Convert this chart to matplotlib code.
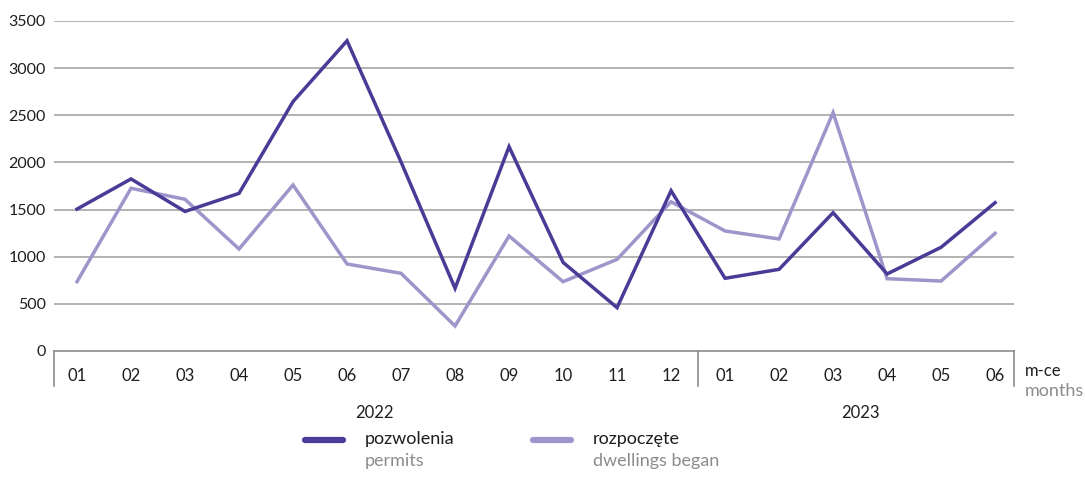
import numpy as np
import matplotlib.pyplot as plt
from matplotlib.lines import Line2D

months = ["01", "02", "03", "04", "05", "06", "07", "08", "09", "10", "11", "12",
          "01", "02", "03", "04", "05", "06"]
years = ["2022", "2023"]
permits = [1505, 1825, 1480, 1672, 2645, 3290, 2005, 665, 2167, 940, 460, 1700,
           771, 866, 1467, 817, 1100, 1573]
began = [735, 1726, 1609, 1082, 1761, 923, 824, 265, 1220, 735, 972, 1583,
         1273, 1188, 2528, 767, 742, 1248]

dark = "#4a3b97"
light = "#a095ca"
grid = "#a6a6a6"
gray_txt = "#8c8c8c"
txt = "#1e1e1e"

plt.rcParams["font.family"] = ["Lato", "DejaVu Sans"]

fig = plt.figure(figsize=(10.85, 4.95), dpi=100)
ax = fig.add_axes([54 / 1085, 1 - 351 / 495, (1014 - 54) / 1085, 330 / 495])

x = np.arange(len(months))
ax.plot(x, began, color=light, lw=2.5, solid_joinstyle="miter")
ax.plot(x, permits, color=dark, lw=2.5, solid_joinstyle="miter")

ax.set_xlim(-0.426, 17.35)
ax.set_ylim(0, 3500)
ax.set_yticks(np.arange(0, 3501, 500))
for y in np.arange(500, 3501, 500):
    ax.axhline(y, color=grid, lw=1.2, zorder=0)

for s in ["top", "right", "left"]:
    ax.spines[s].set_visible(False)
ax.spines["bottom"].set_color("#8c8c8c")
ax.spines["bottom"].set_linewidth(1.2)

ax.set_xticks(x)
ax.set_xticklabels(months)
ax.tick_params(axis="x", length=0, pad=12, labelsize=12, colors=txt)
ax.tick_params(axis="y", length=0, pad=6, labelsize=11.5, colors=txt)

tr = ax.get_xaxis_transform()
for xv in [-0.426, 11.5, 17.35]:
    ax.add_line(Line2D([xv, xv], [0, -35 / 330], transform=tr, color="#8c8c8c",
                       lw=1.2, clip_on=False))

ax.text(5.5, -62 / 330, years[0], transform=tr, ha="center", va="center",
        fontsize=12, color=txt)
ax.text(14.5, -62 / 330, years[1], transform=tr, ha="center", va="center",
        fontsize=12, color=txt)

fig.text(1025 / 1085, 1 - 371 / 495, "m-ce", ha="left", va="center",
         fontsize=12, color=txt)
fig.text(1025 / 1085, 1 - 391 / 495, "months", ha="left", va="center",
         fontsize=13, color=gray_txt)

# legend
for x0, col, t1, t2 in [(305, dark, "pozwolenia", "permits"),
                        (533, light, "rozpoczęte", "dwellings began")]:
    fig.add_artist(Line2D([x0 / 1085, (x0 + 38) / 1085], [1 - 440 / 495] * 2,
                          color=col, lw=4.5, solid_capstyle="round"))
    fig.text((x0 + 60) / 1085, 1 - 439 / 495, t1, ha="left", va="center",
             fontsize=13, color=txt)
    fig.text((x0 + 60) / 1085, 1 - 461 / 495, t2, ha="left", va="center",
             fontsize=13, color=gray_txt)

fig.savefig("out.png", dpi=100)
